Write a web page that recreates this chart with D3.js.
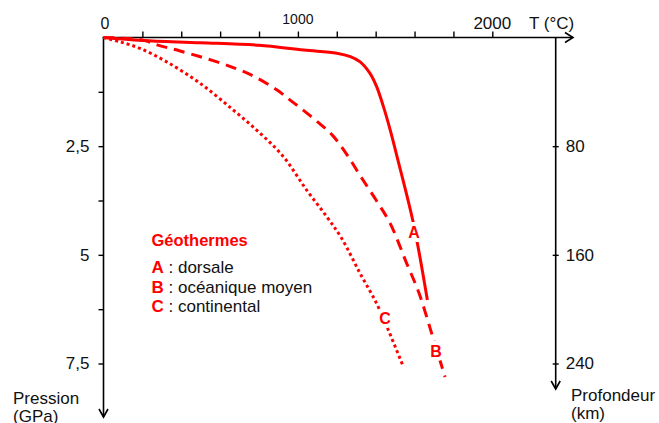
<!DOCTYPE html>
<html><head><meta charset="utf-8">
<script src="https://cdn.jsdelivr.net/npm/d3@7"></script>
<style>
html,body{margin:0;padding:0;background:#fff;}
svg{display:block;font-family:"Liberation Sans",Arial,sans-serif;}
</style></head><body>
<svg id="chart" width="659" height="423"></svg>
<script>
// ---- data ----
const tempTicks = [200,400,600,800,1000,1200,1400,1600,1800,2000];
const tempLabels = [0,1000,2000];
const pressureTicks = [1.25,2.5,3.75,5,6.25,7.5];
const pressureLabels = [2.5,5,7.5];
const depthLabels = [80,160,240];

const seriesNames = ["A","B","C"];
const legendTexts = ["dorsale","océanique moyen","continental"];

const curveA_T = [0,200,500,800,1030,1200,1270,1320,1370,1405,1440,1475,1510,1594,1666];
const curveA_P = [0,0.07,0.12,0.18,0.29,0.36,0.44,0.56,0.82,1.13,1.59,2.13,2.74,4.27,6.04];

const curveB_T = [0,203,275,394,584,702,790,893,960,1027,1109,1176,1253,1325,1402,1474,1559,1623,1695,1757];
const curveB_P = [0,0.06,0.17,0.31,0.56,0.75,0.93,1.21,1.44,1.67,1.97,2.24,2.70,3.21,3.74,4.27,5.19,5.88,6.91,7.81];

const curveC_T = [0,85,188,325,496,668,805,925,1045,1148,1225,1319,1405,1465,1542];
const curveC_P = [0,0.10,0.25,0.56,1.05,1.67,2.20,2.74,3.51,4.12,4.62,5.42,6.12,6.73,7.57];

const labelT = [1597,1710,1448];
const labelP = [4.47,7.22,6.46];

// ---- layout ----
const svg = d3.select("#chart");
const x = d3.scaleLinear().domain([0,2000]).range([103.5,492.3]);
const y = d3.scaleLinear().domain([0,7.5]).range([37.5,363.5]);
const depth = d3.scaleLinear().domain([0,240]).range(y.range());
const fr = d3.formatLocale({decimal:",",thousands:" ",grouping:[3],currency:["","€"]});
const fmt = fr.format("~g");

const x0 = x(0), yTop = y(0);
const rightX = 555.7;
const topArrowX = 573;
const leftArrowY = 417;
const rightArrowY = 389;
const red = "#ff0000";
const ink = "#000";

// axis lines with arrows
function arrowLine(x1,y1,x2,y2,dir){
  svg.append("line").attr("x1",x1).attr("y1",y1).attr("x2",x2).attr("y2",y2)
    .attr("stroke",ink).attr("stroke-width",1.6);
  let p;
  if(dir==="right") p=[[x2-8,y2-5],[x2,y2],[x2-8,y2+5]];
  else p=[[x2-4.5,y2-8],[x2,y2],[x2+4.5,y2-8]];
  svg.append("path").attr("d",d3.line()(p)).attr("fill","none").attr("stroke",ink).attr("stroke-width",1.6);
}
arrowLine(x0-1,yTop,topArrowX,yTop,"right");
arrowLine(x0,yTop,x0,leftArrowY,"down");
arrowLine(rightX,yTop,rightX,rightArrowY,"down");

// top ticks
const gTop = svg.append("g").attr("transform",`translate(0,${yTop})`)
  .call(d3.axisTop(x).tickValues(tempTicks).tickSize(6).tickFormat(""));
gTop.select(".domain").remove();
gTop.selectAll(".tick line").attr("stroke",ink).attr("stroke-width",1.4);

const topSizes = {0:16,1000:14,2000:17};
const topBase = {0:28.5,1000:23.5,2000:28.5};
svg.selectAll("text.tlab").data(tempLabels).join("text").attr("class","tlab")
  .attr("x",d=>x(d)+ (d===0?1.5:0)).attr("y",d=>topBase[d]).attr("text-anchor","middle")
  .attr("font-size",d=>topSizes[d]).attr("fill","#111").text(d=>d);
svg.append("text").attr("x",529).attr("y",28.5).attr("font-size",17).attr("fill","#111").text("T (°C)");

// left ticks
const gLeft = svg.append("g").attr("transform",`translate(${x0},0)`)
  .call(d3.axisLeft(y).tickValues(pressureTicks).tickSize(5).tickPadding(9)
    .tickFormat(d=>pressureLabels.includes(d)?fmt(d):""));
gLeft.select(".domain").remove();
gLeft.selectAll(".tick line").attr("stroke",ink).attr("stroke-width",1.4);
gLeft.selectAll(".tick text").attr("font-size",17).attr("fill","#111")
  .attr("font-family","Liberation Sans, Arial, sans-serif");

// right ticks
const gRight = svg.append("g").attr("transform",`translate(${rightX},0)`)
  .call(d3.axisRight(depth).tickValues(depthLabels).tickSize(3).tickPadding(7));
gRight.select(".domain").remove();
gRight.selectAll(".tick line").attr("x1",-3).attr("stroke",ink).attr("stroke-width",1.4);
gRight.selectAll(".tick text").attr("font-size",17).attr("fill","#111")
  .attr("font-family","Liberation Sans, Arial, sans-serif");

// axis titles
svg.append("text").attr("x",13).attr("y",404).attr("font-size",17).attr("fill","#111").text("Pression");
svg.append("text").attr("x",13).attr("y",422).attr("font-size",17).attr("fill","#111").text("(GPa)");
svg.append("text").attr("x",571).attr("y",401).attr("font-size",17).attr("fill","#111").text("Profondeur");
svg.append("text").attr("x",571).attr("y",419).attr("font-size",17).attr("fill","#111").text("(km)");

// curves
const line = d3.line().x(d=>x(d[0])).y(d=>y(d[1])).curve(d3.curveCatmullRom.alpha(0.5));
const curves = [
  {T:curveA_T,P:curveA_P,dash:null},
  {T:curveB_T,P:curveB_P,dash:"11,7"},
  {T:curveC_T,P:curveC_P,dash:"3,3"}
];
curves.forEach(c=>{
  const pts = c.T.map((t,i)=>[t,c.P[i]]);
  svg.append("path").attr("d",line(pts)).attr("fill","none").attr("stroke",red)
    .attr("stroke-width",3).attr("stroke-dasharray",c.dash).attr("stroke-linecap","butt");
});

// curve labels
svg.selectAll("text.clab").data(seriesNames).join("text").attr("class","clab")
  .attr("x",(d,i)=>x(labelT[i])).attr("y",(d,i)=>y(labelP[i])).attr("dy","0.36em")
  .attr("text-anchor","middle").attr("font-size",16).attr("font-weight","bold")
  .attr("fill",red).attr("stroke","#fff").attr("stroke-width",8)
  .attr("paint-order","stroke").attr("stroke-linejoin","round").text(d=>d);

// legend
svg.append("text").attr("x",151.5).attr("y",246).attr("font-size",16.5).attr("font-weight","bold")
  .attr("fill",red).text("Géothermes");
seriesNames.forEach((n,i)=>{
  const t = svg.append("text").attr("x",151.5).attr("y",273.3+i*19.2).attr("font-size",17);
  t.append("tspan").attr("font-weight","bold").attr("fill",red).text(n);
  t.append("tspan").attr("fill","#111").text(" : "+legendTexts[i]);
});
</script>
</body></html>
